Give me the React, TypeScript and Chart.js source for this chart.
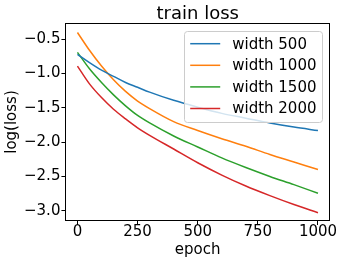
import React, { useEffect, useRef } from "react";
import { Chart, registerables } from "chart.js";

Chart.register(...registerables);

const epochs = [0, 50, 100, 150, 200, 250, 300, 400, 500, 600, 700, 800, 900, 1000];
const width500 = [-0.72, -0.84, -0.95, -1.04, -1.13, -1.2, -1.27, -1.39, -1.49, -1.58, -1.65, -1.72, -1.78, -1.83];
const width1000 = [-0.4, -0.66, -0.89, -1.09, -1.26, -1.4, -1.51, -1.7, -1.83, -1.95, -2.06, -2.18, -2.29, -2.4];
const width1500 = [-0.69, -0.93, -1.13, -1.31, -1.47, -1.61, -1.72, -1.91, -2.07, -2.23, -2.37, -2.5, -2.62, -2.745];
const width2000 = [-0.89, -1.15, -1.35, -1.52, -1.66, -1.79, -1.9, -2.1, -2.3, -2.48, -2.64, -2.78, -2.91, -3.03];

const seriesLabels = ["width 500", "width 1000", "width 1500", "width 2000"];
const seriesColors = ["#1f77b4", "#ff7f0e", "#2ca02c", "#d62728"];
const xTicks = [0, 250, 500, 750, 1000];
const yTicks = [-3.0, -2.5, -2.0, -1.5, -1.0, -0.5];
const titleText = "train loss";
const xTitle = "epoch";
const yTitle = "log(loss)";

const FONT = "'DejaVu Sans', sans-serif";

const overlayPlugin = {
  id: "overlay",
  afterDatasetsDraw(chart: any) {
    const { ctx, chartArea: a } = chart;
    ctx.save();
    const l = Math.round(a.left) + 0.5;
    const r = Math.round(a.right) - 0.5;
    const t = Math.round(a.top) + 0.5;
    const b = Math.round(a.bottom) - 0.5;
    ctx.strokeStyle = "#000";
    ctx.lineWidth = 1;
    ctx.strokeRect(l, t, r - l, b - t);

    const fs = 15;
    ctx.font = `${fs}px ${FONT}`;
    const pad = 6;
    const handleLen = 30;
    const handlePad = 12;
    const rowH = 21.6;
    let maxW = 0;
    chart.data.datasets.forEach((d: any) => {
      maxW = Math.max(maxW, ctx.measureText(d.label).width);
    });
    const w = pad * 2 + handleLen + handlePad + maxW;
    const h = pad * 2 + 14.1 * 4 + 7.5 * 3;
    const x1 = a.right - 7.5 - w;
    const y1 = a.top + 7.5;
    ctx.beginPath();
    ctx.roundRect(Math.round(x1) + 0.5, Math.round(y1) + 0.5, Math.round(w), Math.round(h), 3);
    ctx.fillStyle = "rgba(255,255,255,0.8)";
    ctx.fill();
    ctx.strokeStyle = "#cccccc";
    ctx.lineWidth = 1;
    ctx.stroke();
    ctx.textBaseline = "middle";
    ctx.textAlign = "left";
    chart.data.datasets.forEach((d: any, i: number) => {
      const cy = y1 + 13.2 + i * rowH;
      ctx.beginPath();
      ctx.moveTo(x1 + pad, cy);
      ctx.lineTo(x1 + pad + handleLen, cy);
      ctx.strokeStyle = d.borderColor;
      ctx.lineWidth = 1.5;
      ctx.stroke();
      ctx.fillStyle = "#000";
      ctx.fillText(d.label, x1 + pad + handleLen + handlePad, cy + 1);
    });
    ctx.restore();
  },
  afterDraw(chart: any) {
    const { ctx, chartArea: a } = chart;
    ctx.save();
    ctx.font = `18px ${FONT}`;
    ctx.fillStyle = "#000";
    ctx.textAlign = "center";
    ctx.textBaseline = "alphabetic";
    ctx.fillText(titleText, (a.left + a.right) / 2, a.top - 4);
    ctx.restore();
  },
};

export default function App() {
  const ref = useRef<HTMLCanvasElement | null>(null);
  useEffect(() => {
    if (!ref.current) return;
    const series = [width500, width1000, width1500, width2000];
    const chart = new Chart(ref.current, {
      type: "line",
      data: {
        datasets: series.map((vals, i) => ({
          label: seriesLabels[i],
          data: epochs.map((e, j) => ({ x: e, y: vals[j] })),
          borderColor: seriesColors[i],
          backgroundColor: seriesColors[i],
          borderWidth: 1.5,
          pointRadius: 0,
          cubicInterpolationMode: "monotone" as const,
          fill: false,
        })),
      },
      options: {
        animation: false,
        responsive: false,
        maintainAspectRatio: false,
        layout: { padding: { left: 0, right: 13, top: 23, bottom: 0 } },
        plugins: {
          legend: { display: false },
          title: { display: false },
          tooltip: { enabled: false },
        },
        scales: {
          x: {
            type: "linear",
            min: -50,
            max: 1050,
            afterBuildTicks: (axis: any) => {
              axis.ticks = xTicks.map((v) => ({ value: v }));
            },
            ticks: {
              color: "#000",
              padding: 0,
              maxRotation: 0,
              font: { family: FONT, size: 15, lineHeight: 1.0 },
              callback: (v: any) => String(v),
            },
            grid: { display: true, drawOnChartArea: false, drawTicks: true, tickLength: 4, color: "#000", lineWidth: 1 },
            border: { display: false },
            title: {
              display: true,
              text: xTitle,
              color: "#000",
              font: { family: FONT, size: 15, lineHeight: 1.2 },
              padding: { top: 1, bottom: 5 },
            },
          },
          y: {
            type: "linear",
            min: -3.15,
            max: -0.262,
            afterBuildTicks: (axis: any) => {
              axis.ticks = yTicks.map((v) => ({ value: v }));
            },
            ticks: {
              color: "#000",
              padding: 1,
              font: { family: FONT, size: 15, lineHeight: 1.2 },
              callback: (v: any) => (v < 0 ? "\u2212" : "") + Math.abs(Number(v)).toFixed(1),
            },
            grid: { display: true, drawOnChartArea: false, drawTicks: true, tickLength: 4, color: "#000", lineWidth: 1 },
            border: { display: false },
            title: {
              display: true,
              text: yTitle,
              color: "#000",
              font: { family: FONT, size: 15, lineHeight: 1.2 },
              padding: { top: 3, bottom: 2 },
            },
          },
        },
      },
      plugins: [overlayPlugin],
    });
    return () => chart.destroy();
  }, []);
  return (
    <div style={{ position: "absolute", left: 0, top: 0, width: 343, height: 264, background: "#fff" }}>
      <canvas ref={ref} width={343} height={264} style={{ display: "block" }} />
    </div>
  );
}
